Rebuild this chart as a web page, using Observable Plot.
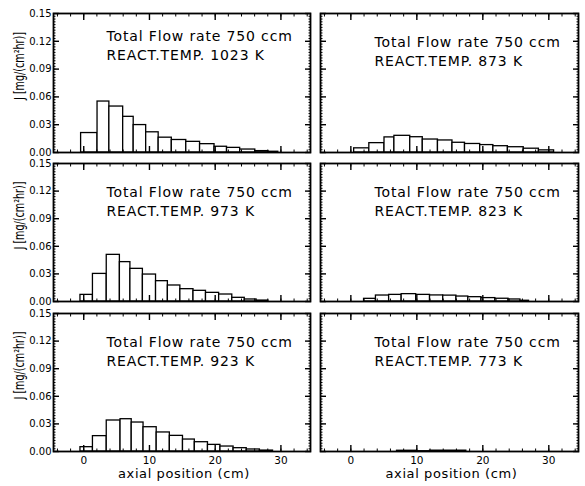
<!DOCTYPE html>
<html><head><meta charset="utf-8">
<script src="https://cdn.jsdelivr.net/npm/d3@7"></script>
<script src="https://cdn.jsdelivr.net/npm/@observablehq/plot@0.6"></script>
<style>
body{margin:0;background:#fff;}
#chart{position:relative;width:585px;height:486px;overflow:hidden;background:#fff;}
#chart svg{position:absolute;}
</style></head><body><div id="chart"></div>
<script>
// ---- data ----
const temps = [1023, 873, 973, 823, 923, 773];

const edges1023 = [-0.4, 2.1, 3.9, 6.0, 7.6, 9.5, 11.4, 13.4, 15.6, 17.7, 19.9, 21.8, 23.8, 26.1, 28.1, 29.6];
const j1023     = [0.021, 0.055, 0.0496, 0.0385, 0.0296, 0.0218, 0.016, 0.0135, 0.0115, 0.009, 0.0062, 0.005, 0.0032, 0.0015, 0.0008];

const edges973 = [-0.5, 1.4, 3.5, 5.5, 7.1, 9.0, 11.0, 12.8, 14.7, 16.7, 18.6, 20.6, 22.6, 24.5, 26.3, 28.1];
const j973     = [0.0072, 0.030, 0.0507, 0.0428, 0.0355, 0.0293, 0.0221, 0.0174, 0.0134, 0.0116, 0.0094, 0.0076, 0.004, 0.0022, 0.001];

const edges923 = [-0.5, 1.4, 3.5, 5.6, 7.3, 9.1, 11.1, 13.1, 15.1, 16.9, 18.9, 20.8, 22.8, 24.8, 26.8, 28.8];
const j923     = [0.0047, 0.0167, 0.0337, 0.0351, 0.0315, 0.0264, 0.0207, 0.017, 0.013, 0.0101, 0.0072, 0.0054, 0.0036, 0.0022, 0.001];

const edges873 = [0.5, 2.8, 5.1, 6.6, 9.0, 10.9, 13.2, 15.4, 17.3, 19.6, 21.6, 23.8, 26.2, 28.5, 30.8];
const j873     = [0.0045, 0.0101, 0.0163, 0.018, 0.0165, 0.014, 0.013, 0.0105, 0.0092, 0.008, 0.0068, 0.0057, 0.0041, 0.0023];

const edges823 = [2.0, 3.8, 5.8, 7.7, 9.9, 12.0, 14.0, 16.0, 17.8, 19.8, 21.9, 23.9, 25.7, 27.0];
const j823     = [0.0029, 0.0065, 0.0072, 0.008, 0.0072, 0.0066, 0.0064, 0.0054, 0.0047, 0.0037, 0.003, 0.0022, 0.0008];

const edges773 = [7.0, 10.0, 12.0, 17.5];
const j773     = [0.0008, 0.0003, 0.0009];

const xTicks = [0, 10, 20, 30];
const yTicks = [0, 0.03, 0.06, 0.09, 0.12, 0.15];
const flowText = "Total Flow rate 750 ccm";
const tempPrefix = "REACT.TEMP.";
const xLabel = "axial position (cm)";
const yLabel = "J [mg/(cm²hr)]";

// ---- layout ----
const xDomain = [-4.6, 34.5];
const yDomain = [0, 0.15];
const colLeft = [0, 316];
const colMargins = [[53, 3], [4, 5]];
const colFrameW = [257, 258];
const rowFrameTop = [13, 163, 313];
const rowFrameH = [139, 138, 138];

const panels = [
  {temp: temps[0], edges: edges1023, j: j1023, col: 0, row: 0, dy: 13},
  {temp: temps[1], edges: edges873,  j: j873,  col: 1, row: 0, dy: 19},
  {temp: temps[2], edges: edges973,  j: j973,  col: 0, row: 1, dy: 19},
  {temp: temps[3], edges: edges823,  j: j823,  col: 1, row: 1, dy: 19},
  {temp: temps[4], edges: edges923,  j: j923,  col: 0, row: 2, dy: 19},
  {temp: temps[5], edges: edges773,  j: j773,  col: 1, row: 2, dy: 19}
];

const yMinor = d3.range(0, 0.1501, 0.003);
const xMinor = d3.range(-4, 35, 2);
const chart = document.getElementById("chart");

for (const p of panels) {
  const bars = p.j.map((v, i) => ({x1: p.edges[i], x2: p.edges[i + 1], j: v}));
  const [ml, mr] = colMargins[p.col];
  const mt = 8;
  const mb = p.row === 2 ? 35 : 3;
  const annotation = `${flowText}\n${tempPrefix} ${p.temp} K`;
  const marks = [
    Plot.rectY(bars, {x1: "x1", x2: "x2", y: "j", fill: "white", stroke: "black", strokeWidth: 1.3}),
    Plot.axisY(yTicks, {anchor: "left", tickSize: -6, tickFormat: () => "", label: null, strokeWidth: 1.4}),
    Plot.axisY(yTicks, {anchor: "right", tickSize: -6, tickFormat: () => "", label: null, strokeWidth: 1.4}),
    Plot.axisY(yMinor, {anchor: "left", tickSize: -2.5, tickFormat: () => "", label: null}),
    Plot.axisY(yMinor, {anchor: "right", tickSize: -2.5, tickFormat: () => "", label: null}),
    Plot.axisX(xTicks, {anchor: "top", tickSize: -6, tickFormat: () => "", label: null, strokeWidth: 1.4}),
    Plot.axisX(xTicks, {anchor: "bottom", tickSize: -6, tickFormat: () => "", label: null, strokeWidth: 1.4}),
    Plot.axisX(xMinor, {anchor: "top", tickSize: -2.5, tickFormat: () => "", label: null}),
    Plot.axisX(xMinor, {anchor: "bottom", tickSize: -2.5, tickFormat: () => "", label: null}),
    Plot.frame({stroke: "black", strokeWidth: 1.8}),
    Plot.text([annotation], {
      frameAnchor: "top-left", dx: p.col === 0 ? 53 : 54, dy: p.dy,
      textAnchor: "start", lineAnchor: "top", lineHeight: 1.42,
      fontSize: 14, fill: "black", fontFamily: "DejaVu Sans"
    })
  ];
  if (p.col === 0) {
    marks.push(
      Plot.axisY(yTicks, {anchor: "left", tickSize: 0, tickPadding: 2, tickFormat: d => d.toFixed(2), label: null, fontSize: 10}),
      Plot.text([yLabel], {frameAnchor: "left", dx: -34, dy: -17, rotate: -90, fontSize: 14, fill: "black", textAnchor: "middle"})
    );
  }
  if (p.row === 2) {
    marks.push(
      Plot.axisX(xTicks, {anchor: "bottom", tickSize: 0, tickPadding: 5, label: null, fontSize: 10.5}),
      Plot.text([xLabel], {frameAnchor: "bottom", dx: 2, dy: 17, lineAnchor: "top", fontSize: 13, fill: "black"})
    );
  }
  const svg = Plot.plot({
    width: ml + colFrameW[p.col] + mr,
    height: mt + rowFrameH[p.row] + mb,
    marginLeft: ml, marginRight: mr, marginTop: mt, marginBottom: mb,
    x: {domain: xDomain, axis: null},
    y: {domain: yDomain, axis: null},
    style: {fontFamily: "DejaVu Sans", fontSize: "11px", color: "black", background: "transparent", overflow: "visible"},
    marks
  });
  for (const t of svg.querySelectorAll("text")) {
    const s = t.textContent;
    if (s === yLabel) {
      t.setAttribute("textLength", 68);
      t.setAttribute("lengthAdjust", "spacingAndGlyphs");
    } else if (s.startsWith(flowText)) {
      t.style.letterSpacing = "0.85px";
    } else if (s === xLabel) {
      t.style.letterSpacing = "0.6px";
    }
  }
  svg.style.left = colLeft[p.col] + "px";
  svg.style.top = (rowFrameTop[p.row] - mt) + "px";
  chart.appendChild(svg);
}
</script>
</body></html>
